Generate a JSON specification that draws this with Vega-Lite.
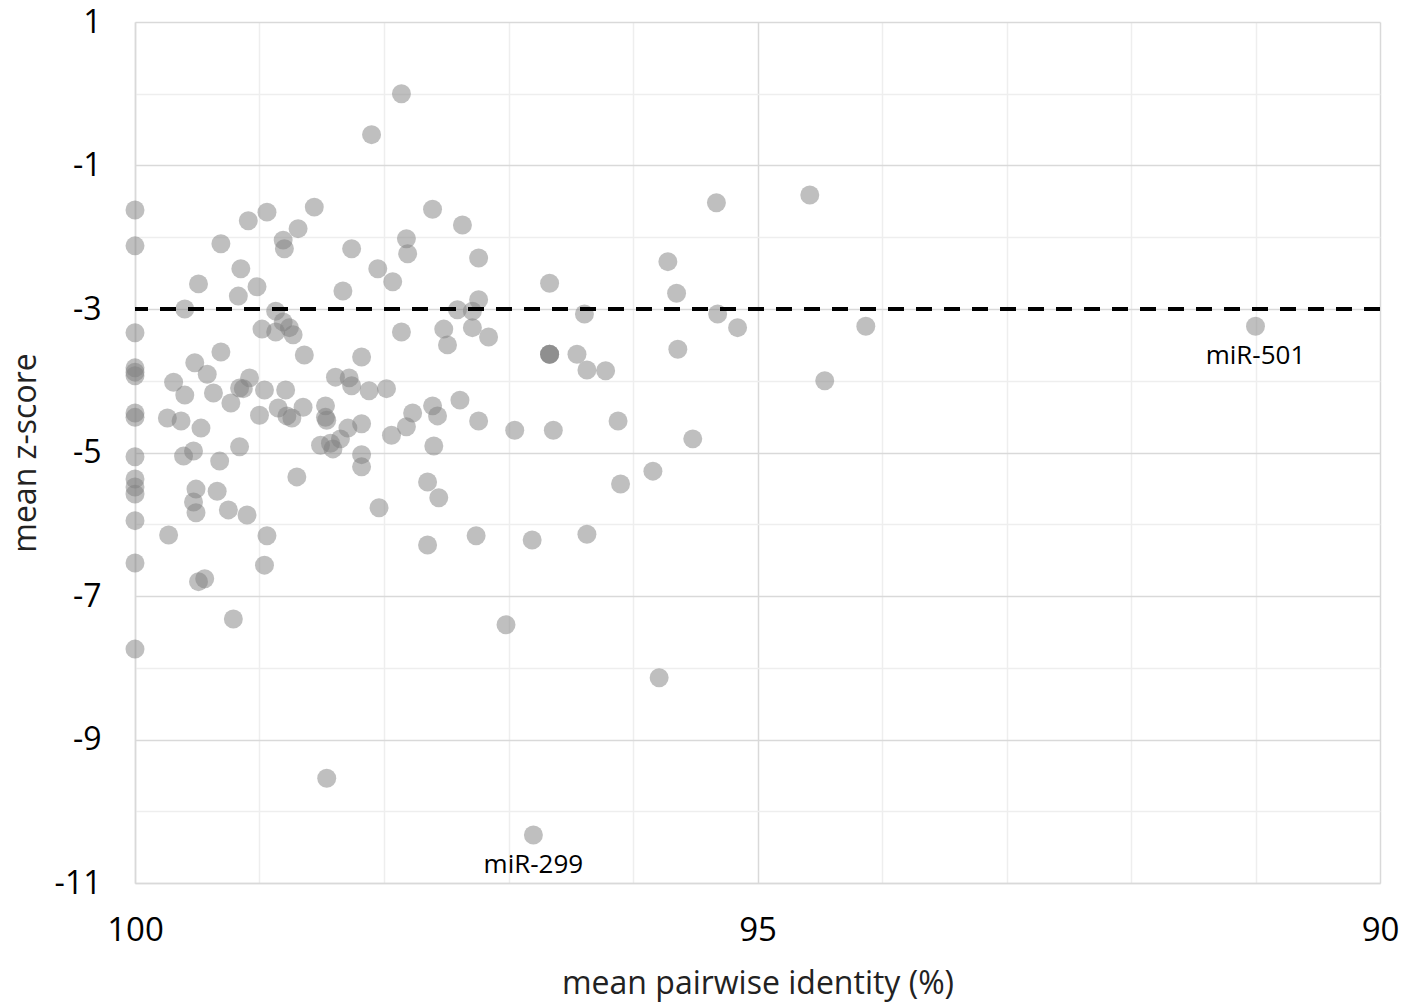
{
  "$schema": "https://vega.github.io/schema/vega-lite/v6.json",
  "width": 1245,
  "height": 861,
  "autosize": {"type": "none"},
  "padding": {"left": 135, "top": 22, "right": 35, "bottom": 119},
  "background": "white",
  "config": {
    "view": {"stroke": null},
    "font": "Open Sans"
  },
  "datasets": {
    "pts": [
      {"identity": 100, "z": -1.62}, {"identity": 100, "z": -2.12}, {"identity": 100, "z": -3.33},
      {"identity": 100, "z": -3.82}, {"identity": 100, "z": -3.88}, {"identity": 100, "z": -3.93},
      {"identity": 100, "z": -4.45}, {"identity": 100, "z": -4.51}, {"identity": 100, "z": -5.06},
      {"identity": 100, "z": -5.37}, {"identity": 100, "z": -5.48}, {"identity": 100, "z": -5.58},
      {"identity": 100, "z": -5.95}, {"identity": 100, "z": -6.54}, {"identity": 100, "z": -7.74},
      {"identity": 97.86, "z": 0.0}, {"identity": 98.10, "z": -0.57}, {"identity": 94.58, "z": -1.41},
      {"identity": 95.33, "z": -1.52}, {"identity": 98.56, "z": -1.58}, {"identity": 98.94, "z": -1.65},
      {"identity": 97.61, "z": -1.61}, {"identity": 99.09, "z": -1.77}, {"identity": 97.37, "z": -1.83},
      {"identity": 98.69, "z": -1.88}, {"identity": 99.31, "z": -2.09}, {"identity": 98.81, "z": -2.04},
      {"identity": 98.80, "z": -2.16}, {"identity": 97.82, "z": -2.02}, {"identity": 98.26, "z": -2.16},
      {"identity": 97.81, "z": -2.23}, {"identity": 97.24, "z": -2.29}, {"identity": 95.72, "z": -2.34},
      {"identity": 99.15, "z": -2.44}, {"identity": 98.05, "z": -2.44}, {"identity": 99.49, "z": -2.65},
      {"identity": 97.93, "z": -2.62}, {"identity": 96.67, "z": -2.64}, {"identity": 99.02, "z": -2.69},
      {"identity": 98.33, "z": -2.75}, {"identity": 95.65, "z": -2.78}, {"identity": 99.17, "z": -2.82},
      {"identity": 97.24, "z": -2.87}, {"identity": 99.60, "z": -3.00}, {"identity": 97.41, "z": -3.01},
      {"identity": 97.29, "z": -3.03}, {"identity": 98.87, "z": -3.03}, {"identity": 96.39, "z": -3.07},
      {"identity": 95.32, "z": -3.07}, {"identity": 98.81, "z": -3.18}, {"identity": 98.76, "z": -3.26},
      {"identity": 98.73, "z": -3.36}, {"identity": 98.87, "z": -3.32}, {"identity": 98.98, "z": -3.28},
      {"identity": 94.13, "z": -3.24}, {"identity": 95.16, "z": -3.26}, {"identity": 91.00, "z": -3.24},
      {"identity": 97.52, "z": -3.28}, {"identity": 97.29, "z": -3.26}, {"identity": 97.16, "z": -3.39},
      {"identity": 97.86, "z": -3.32}, {"identity": 97.49, "z": -3.50}, {"identity": 95.64, "z": -3.56},
      {"identity": 99.31, "z": -3.60}, {"identity": 98.64, "z": -3.64}, {"identity": 96.67, "z": -3.63},
      {"identity": 96.67, "z": -3.63}, {"identity": 96.67, "z": -3.63},
      {"identity": 96.45, "z": -3.63}, {"identity": 98.18, "z": -3.67}, {"identity": 99.52, "z": -3.75},
      {"identity": 96.37, "z": -3.85}, {"identity": 96.22, "z": -3.86}, {"identity": 99.42, "z": -3.91},
      {"identity": 99.69, "z": -4.02}, {"identity": 99.08, "z": -3.96}, {"identity": 98.39, "z": -3.95},
      {"identity": 98.28, "z": -3.96}, {"identity": 98.26, "z": -4.07}, {"identity": 94.46, "z": -4.00},
      {"identity": 99.16, "z": -4.10}, {"identity": 99.13, "z": -4.11}, {"identity": 99.60, "z": -4.20},
      {"identity": 99.37, "z": -4.17}, {"identity": 98.96, "z": -4.13}, {"identity": 98.79, "z": -4.13},
      {"identity": 98.12, "z": -4.14}, {"identity": 97.98, "z": -4.11}, {"identity": 99.23, "z": -4.31},
      {"identity": 98.85, "z": -4.38}, {"identity": 98.65, "z": -4.37}, {"identity": 99.00, "z": -4.48},
      {"identity": 98.78, "z": -4.49}, {"identity": 98.74, "z": -4.52}, {"identity": 98.47, "z": -4.35},
      {"identity": 98.47, "z": -4.51}, {"identity": 98.46, "z": -4.55}, {"identity": 99.74, "z": -4.52},
      {"identity": 99.63, "z": -4.56}, {"identity": 99.47, "z": -4.66}, {"identity": 97.39, "z": -4.27},
      {"identity": 97.61, "z": -4.35}, {"identity": 97.57, "z": -4.49}, {"identity": 97.77, "z": -4.45},
      {"identity": 97.82, "z": -4.64}, {"identity": 97.24, "z": -4.56}, {"identity": 96.95, "z": -4.69},
      {"identity": 96.64, "z": -4.69}, {"identity": 96.12, "z": -4.56}, {"identity": 97.94, "z": -4.76},
      {"identity": 98.51, "z": -4.90}, {"identity": 98.43, "z": -4.87}, {"identity": 98.41, "z": -4.95},
      {"identity": 98.35, "z": -4.81}, {"identity": 98.29, "z": -4.66}, {"identity": 98.18, "z": -4.60},
      {"identity": 97.60, "z": -4.91}, {"identity": 99.61, "z": -5.05}, {"identity": 99.53, "z": -4.98},
      {"identity": 99.32, "z": -5.12}, {"identity": 99.16, "z": -4.92}, {"identity": 98.18, "z": -5.03},
      {"identity": 98.18, "z": -5.20}, {"identity": 98.70, "z": -5.34}, {"identity": 95.52, "z": -4.81},
      {"identity": 99.51, "z": -5.51}, {"identity": 99.53, "z": -5.69}, {"identity": 99.51, "z": -5.84},
      {"identity": 99.34, "z": -5.54}, {"identity": 99.25, "z": -5.80}, {"identity": 99.10, "z": -5.87},
      {"identity": 98.04, "z": -5.77}, {"identity": 97.65, "z": -5.41}, {"identity": 97.56, "z": -5.63},
      {"identity": 96.10, "z": -5.44}, {"identity": 95.84, "z": -5.26}, {"identity": 99.73, "z": -6.15},
      {"identity": 98.94, "z": -6.16}, {"identity": 97.65, "z": -6.29}, {"identity": 97.26, "z": -6.16},
      {"identity": 96.81, "z": -6.22}, {"identity": 96.37, "z": -6.14}, {"identity": 98.96, "z": -6.57},
      {"identity": 99.49, "z": -6.80}, {"identity": 99.44, "z": -6.76}, {"identity": 99.21, "z": -7.32},
      {"identity": 97.02, "z": -7.40}, {"identity": 95.79, "z": -8.14}, {"identity": 98.46, "z": -9.54},
      {"identity": 96.80, "z": -10.33}
    ],
    "labels": [
      {"identity": 91.00, "z": -3.24, "name": "miR-501"},
      {"identity": 96.80, "z": -10.33, "name": "miR-299"}
    ],
    "thresh": [
      {"z": -3}
    ]
  },
  "layer": [
    {
      "data": {"name": "pts"},
      "mark": {"type": "circle", "size": 360, "color": "#7f7f7f", "opacity": 0.5, "strokeWidth": 0},
      "encoding": {
        "x": {
          "field": "identity", "type": "quantitative",
          "scale": {"domain": [90, 100], "reverse": true, "zero": false, "nice": false},
          "axis": {
            "title": "mean pairwise identity (%)",
            "values": [90, 91, 92, 93, 94, 95, 96, 97, 98, 99, 100],
            "labelExpr": "datum.value % 5 == 0 ? '' + datum.value : ''",
            "labelFlush": false,
            "grid": true,
            "gridColor": {"condition": {"test": "datum.value % 5 == 0", "value": "#d9d9d9"}, "value": "#eeeeee"},
            "gridWidth": 1.5,
            "ticks": false,
            "domainColor": "#d9d9d9",
            "domainWidth": 1.5,
            "labelFontSize": 33,
            "labelColor": "#000000",
            "labelPadding": 31,
            "titleFontSize": 32,
            "titleFontWeight": "normal",
            "titleColor": "#222222",
            "titleY": 100,
            "titleBaseline": "middle"
          }
        },
        "y": {
          "field": "z", "type": "quantitative",
          "scale": {"domain": [-11, 1], "zero": false, "nice": false},
          "axis": {
            "title": "mean z-score",
            "values": [-11, -10, -9, -8, -7, -6, -5, -4, -3, -2, -1, 0, 1],
            "labelExpr": "datum.value % 2 == 0 ? '' : '' + datum.value",
            "labelFlush": false,
            "grid": true,
            "gridColor": {"condition": {"test": "datum.value % 2 != 0", "value": "#d9d9d9"}, "value": "#eeeeee"},
            "gridWidth": 1.5,
            "ticks": false,
            "domainColor": "#d9d9d9",
            "domainWidth": 1.5,
            "labelFontSize": 32,
            "labelColor": "#000000",
            "labelPadding": 34,
            "titleFontSize": 32,
            "titleFontWeight": "normal",
            "titleColor": "#222222",
            "titleX": -110,
            "titleBaseline": "middle"
          }
        }
      }
    },
    {
      "data": {"name": "thresh"},
      "mark": {"type": "rule", "color": "#000000", "strokeWidth": 4, "strokeDash": [16, 12]},
      "encoding": {"y": {"field": "z", "type": "quantitative"}}
    },
    {
      "data": {"name": "labels"},
      "mark": {"type": "text", "fontSize": 26, "color": "#000000", "dy": 30, "baseline": "middle", "align": "center"},
      "encoding": {
        "x": {"field": "identity", "type": "quantitative"},
        "y": {"field": "z", "type": "quantitative"},
        "text": {"field": "name"}
      }
    }
  ]
}
